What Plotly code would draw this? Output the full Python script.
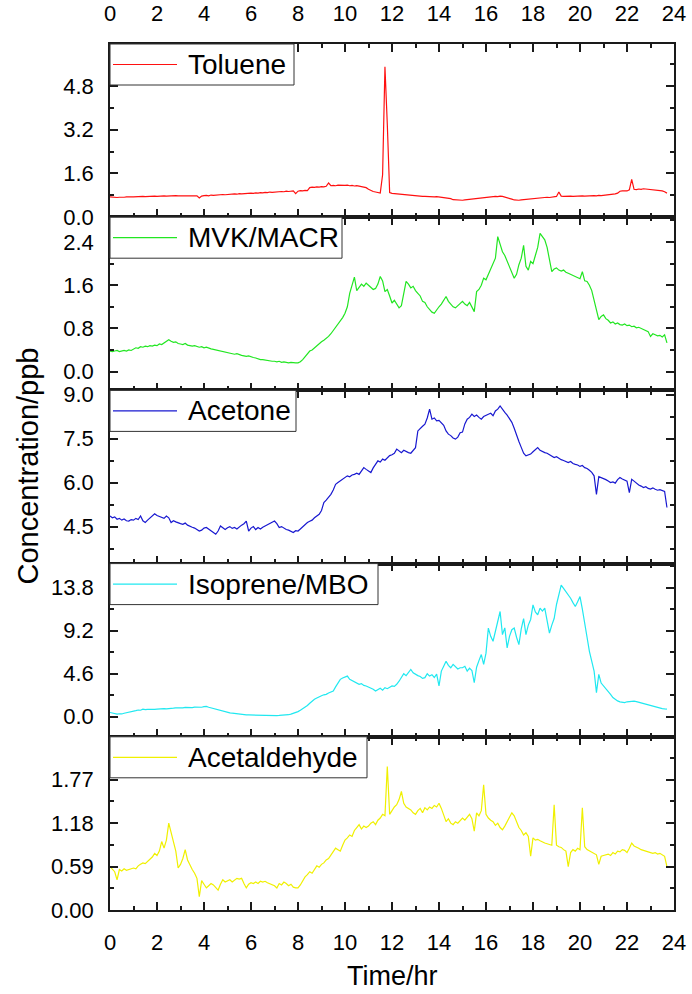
import numpy as np
import plotly.graph_objects as go
from plotly.subplots import make_subplots

# ---------------- data (time in hours, 0.1 h sampling, 0.0 .. 23.7) ----------------
time_hr = np.round(np.arange(0, 23.75, 0.1), 1)

toluene = [
    0.74,0.73,0.73,0.72,0.73,0.72,0.73,0.74,0.73,0.74,
    0.74,0.75,0.74,0.75,0.76,0.75,0.76,0.75,0.76,0.77,
    0.76,0.77,0.76,0.78,0.77,0.78,0.77,0.78,0.79,0.78,
    0.78,0.79,0.78,0.79,0.78,0.80,0.79,0.78,0.70,0.77,
    0.79,0.80,0.78,0.81,0.80,0.81,0.82,0.81,0.83,0.82,
    0.83,0.84,0.83,0.85,0.84,0.86,0.85,0.86,0.87,0.86,
    0.88,0.87,0.89,0.88,0.90,0.89,0.91,0.90,0.92,0.91,
    0.92,0.93,0.92,0.94,0.93,0.95,0.94,0.95,0.96,0.86,
    0.95,0.97,0.96,0.98,0.97,1.08,1.10,1.09,1.11,1.10,
    1.12,1.11,1.13,1.25,1.15,1.16,1.15,1.17,1.16,1.17,
    1.16,1.17,1.15,1.16,1.14,1.15,1.13,1.12,1.10,1.08,
    1.02,0.97,0.94,0.92,0.90,0.88,1.55,5.50,3.40,0.90,
    0.87,0.86,0.86,0.85,0.85,0.84,0.83,0.82,0.80,0.79,
    0.78,0.77,0.77,0.76,0.76,0.75,0.76,0.75,0.74,0.75,
    0.74,0.74,0.73,0.72,0.70,0.68,0.64,0.63,0.62,0.62,
    0.62,0.63,0.64,0.65,0.66,0.68,0.67,0.70,0.71,0.72,
    0.73,0.74,0.73,0.75,0.76,0.75,0.77,0.76,0.74,0.72,
    0.69,0.66,0.63,0.62,0.62,0.63,0.64,0.65,0.66,0.67,
    0.68,0.69,0.70,0.70,0.71,0.72,0.73,0.72,0.74,0.75,
    0.76,0.92,0.77,0.76,0.77,0.76,0.77,0.76,0.77,0.76,
    0.77,0.78,0.77,0.78,0.79,0.78,0.79,0.78,0.80,0.79,
    0.80,0.81,0.82,0.81,0.83,0.85,0.88,0.95,0.96,0.97,
    0.96,1.00,1.38,1.02,1.01,1.03,1.02,1.04,1.03,1.02,
    1.03,1.02,1.01,0.99,0.98,0.96,0.93,0.88,
]

mvk_macr = [
    0.38,0.37,0.38,0.39,0.37,0.38,0.39,0.38,0.40,0.39,
    0.41,0.44,0.43,0.46,0.45,0.47,0.46,0.48,0.47,0.49,
    0.48,0.51,0.50,0.53,0.55,0.59,0.56,0.54,0.55,0.52,
    0.51,0.50,0.52,0.49,0.48,0.47,0.48,0.46,0.45,0.46,
    0.44,0.45,0.43,0.42,0.41,0.40,0.39,0.38,0.36,0.35,
    0.35,0.34,0.33,0.32,0.33,0.31,0.30,0.29,0.28,0.29,
    0.27,0.26,0.25,0.23,0.22,0.22,0.21,0.20,0.20,0.19,
    0.19,0.18,0.19,0.17,0.18,0.17,0.16,0.17,0.16,0.16,
    0.16,0.18,0.22,0.28,0.33,0.38,0.40,0.44,0.48,0.52,
    0.55,0.58,0.61,0.65,0.70,0.76,0.82,0.88,0.93,1.00,
    1.08,1.20,1.45,1.60,1.75,1.50,1.55,1.62,1.58,1.64,
    1.60,1.56,1.52,1.54,1.62,1.76,1.68,1.48,1.52,1.40,
    1.27,1.32,1.25,1.18,1.22,1.45,1.67,1.62,1.55,1.58,
    1.50,1.45,1.40,1.30,1.28,1.20,1.15,1.10,1.08,1.15,
    1.20,1.25,1.32,1.39,1.30,1.25,1.20,1.18,1.22,1.26,
    1.30,1.25,1.22,1.28,1.20,1.11,1.48,1.52,1.60,1.73,
    1.70,1.80,1.90,1.98,2.10,2.50,2.35,2.22,2.15,2.04,
    1.95,1.82,1.73,1.80,1.98,2.10,2.34,1.95,1.88,2.04,
    2.00,2.15,2.30,2.56,2.50,2.44,2.30,2.10,1.85,1.90,
    1.92,1.88,1.86,1.88,1.84,1.82,1.80,1.78,1.76,1.73,
    1.72,1.85,1.68,1.67,1.60,1.50,1.30,1.15,0.96,1.02,
    1.05,0.98,0.95,0.90,0.92,0.88,0.90,0.87,0.86,0.88,
    0.85,0.86,0.83,0.84,0.81,0.82,0.80,0.78,0.76,0.74,
    0.65,0.70,0.68,0.66,0.67,0.64,0.68,0.53,
]

acetone = [
    4.86,4.80,4.83,4.75,4.78,4.72,4.76,4.70,4.69,4.74,
    4.72,4.78,4.74,4.86,4.70,4.64,4.72,4.80,4.85,4.94,
    4.88,4.85,4.82,4.78,4.86,4.80,4.64,4.70,4.66,4.62,
    4.60,4.58,4.62,4.55,4.50,4.48,4.45,4.40,4.35,4.38,
    4.45,4.47,4.42,4.38,4.30,4.24,4.35,4.52,4.45,4.40,
    4.46,4.50,4.44,4.47,4.42,4.50,4.55,4.60,4.69,4.35,
    4.45,4.50,4.40,4.47,4.42,4.48,4.52,4.58,4.62,4.65,
    4.69,4.60,4.47,4.50,4.45,4.40,4.38,4.35,4.30,4.36,
    4.35,4.42,4.50,4.58,4.64,4.68,4.72,4.80,4.86,4.92,
    5.05,5.32,5.40,5.49,5.60,5.75,5.94,6.00,6.05,6.10,
    6.15,6.23,6.20,6.26,6.28,6.32,6.28,6.40,6.51,6.45,
    6.40,6.34,6.50,6.62,6.74,6.70,6.80,6.76,6.85,6.92,
    6.95,7.00,7.14,7.08,7.02,7.10,7.05,7.02,7.00,7.08,
    7.19,7.76,7.85,7.92,7.99,8.20,8.50,8.16,8.20,8.10,
    8.12,8.05,7.95,7.76,7.65,7.60,7.52,7.48,7.55,7.70,
    7.72,8.00,8.16,8.22,8.33,8.25,8.30,8.22,8.16,8.25,
    8.30,8.33,8.36,8.28,8.44,8.50,8.61,8.48,8.39,8.30,
    8.16,8.05,7.85,7.59,7.40,7.20,7.00,6.91,6.95,6.97,
    7.05,7.12,7.19,7.10,7.05,7.02,7.00,6.95,6.92,6.85,
    6.88,6.82,6.78,6.75,6.70,6.68,6.72,6.65,6.62,6.60,
    6.55,6.58,6.51,6.48,6.42,6.35,6.23,5.60,6.20,6.17,
    6.15,6.10,6.05,6.00,6.02,5.98,6.10,6.17,6.12,6.08,
    6.05,5.66,6.11,6.05,5.98,5.92,5.88,5.83,5.86,5.80,
    5.78,5.82,5.77,5.74,5.76,5.72,5.70,5.15,
]

isoprene_mbo = [
    0.46,0.40,0.35,0.28,0.32,0.30,0.38,0.42,0.50,0.55,
    0.60,0.65,0.72,0.70,0.81,0.76,0.80,0.78,0.84,0.80,
    0.82,0.86,0.83,0.88,0.85,0.90,0.87,0.92,0.95,0.93,
    0.99,0.95,1.00,0.97,1.02,0.98,1.03,1.00,1.05,1.02,
    1.08,1.10,1.02,0.95,0.88,0.81,0.72,0.64,0.58,0.52,
    0.46,0.42,0.38,0.34,0.30,0.27,0.25,0.23,0.21,0.20,
    0.19,0.18,0.17,0.16,0.14,0.15,0.14,0.14,0.13,0.14,
    0.14,0.13,0.14,0.14,0.15,0.18,0.22,0.28,0.35,0.45,
    0.55,0.70,0.85,0.99,1.20,1.45,1.70,1.88,2.00,2.15,
    2.25,2.35,2.40,2.55,2.65,2.76,3.20,3.60,4.00,4.15,
    4.25,4.35,4.00,3.85,3.70,3.55,3.47,3.55,3.35,3.29,
    3.20,3.05,2.95,2.76,2.90,3.05,2.85,3.11,3.00,3.20,
    3.30,3.25,3.47,3.80,4.18,4.60,4.40,4.80,5.06,4.70,
    4.53,4.40,4.30,4.10,4.18,4.60,4.35,4.50,4.20,4.55,
    3.29,4.88,5.40,5.94,5.50,5.24,5.60,5.35,5.10,5.24,
    5.24,5.40,4.88,5.20,4.95,3.64,5.30,6.00,6.65,5.60,
    6.80,9.48,8.60,8.07,9.20,10.20,11.25,8.78,9.50,7.36,
    8.60,9.30,9.48,8.50,7.71,9.40,10.50,8.78,9.80,10.40,
    11.96,11.20,10.90,11.60,11.30,11.60,10.40,8.95,9.80,10.50,
    12.00,13.20,14.08,13.73,13.40,13.00,12.67,12.20,11.78,12.30,
    12.85,11.50,10.19,8.50,7.00,5.90,4.88,2.58,4.53,3.60,
    3.30,3.11,2.70,2.40,2.05,1.85,1.70,1.60,1.55,1.52,
    1.60,1.65,1.70,1.68,1.62,1.55,1.48,1.40,1.32,1.25,
    1.17,1.10,1.05,0.98,0.92,0.88,0.84,0.81,
]

acetaldehyde = [
    0.59,0.55,0.52,0.41,0.55,0.53,0.56,0.54,0.55,0.55,
    0.57,0.56,0.60,0.62,0.64,0.63,0.66,0.68,0.72,0.77,
    0.74,0.80,0.93,0.84,0.95,1.18,1.05,0.93,0.80,0.57,
    0.62,0.70,0.82,0.68,0.61,0.55,0.50,0.43,0.18,0.40,
    0.35,0.30,0.33,0.36,0.34,0.30,0.27,0.35,0.41,0.38,
    0.39,0.41,0.38,0.40,0.43,0.42,0.43,0.36,0.30,0.35,
    0.37,0.36,0.38,0.36,0.39,0.38,0.39,0.37,0.36,0.34,
    0.33,0.30,0.36,0.34,0.38,0.36,0.33,0.35,0.31,0.30,
    0.30,0.34,0.40,0.45,0.48,0.52,0.50,0.55,0.60,0.58,
    0.62,0.64,0.68,0.70,0.75,0.80,0.84,0.82,0.80,0.88,
    0.95,0.98,1.02,1.00,1.08,1.12,1.16,1.10,1.14,1.12,
    1.14,1.18,1.20,1.16,1.22,1.25,1.30,1.28,1.95,1.30,
    1.35,1.40,1.43,1.50,1.61,1.45,1.40,1.38,1.36,1.32,
    1.30,1.35,1.38,1.32,1.39,1.36,1.40,1.38,1.42,1.40,
    1.45,1.38,1.28,1.20,1.24,1.18,1.16,1.20,1.18,1.22,
    1.25,1.22,1.26,1.30,1.24,1.07,1.32,1.28,1.35,1.70,
    1.30,1.25,1.22,1.20,1.15,1.18,1.12,1.09,1.14,1.20,
    1.25,1.32,1.28,1.20,1.12,1.08,1.02,1.05,1.00,0.73,
    0.98,0.95,0.96,0.94,0.92,0.91,0.90,0.89,0.88,1.43,
    0.88,0.86,0.85,0.82,0.80,0.59,0.78,0.82,0.80,0.84,
    0.82,1.39,0.86,0.82,0.80,0.78,0.76,0.75,0.62,0.73,
    0.74,0.75,0.76,0.74,0.78,0.76,0.80,0.79,0.82,0.81,
    0.78,0.84,0.91,0.87,0.86,0.84,0.82,0.81,0.80,0.79,
    0.78,0.77,0.78,0.76,0.77,0.75,0.73,0.59,
]

series_names = ["Toluene", "MVK/MACR", "Acetone", "Isoprene/MBO", "Acetaldehyde"]
series_values = [toluene, mvk_macr, acetone, isoprene_mbo, acetaldehyde]
series_colors = ["#ff1010", "#22e622", "#1818d0", "#20e8f0", "#f0f000"]

x_ticks = list(range(0, 25, 2))
y_ranges = [[0, 6.33], [-0.35, 2.86], [3.24, 9.14], [-2.14, 16.37], [0, 2.353]]
y_tickvals = [[0, 1.6, 3.2, 4.8], [0, 0.8, 1.6, 2.4], [4.5, 6.0, 7.5, 9.0],
              [0, 4.6, 9.2, 13.8], [0, 0.59, 1.18, 1.77]]
y_ticktext = [["0.0", "1.6", "3.2", "4.8"], ["0.0", "0.8", "1.6", "2.4"],
              ["4.5", "6.0", "7.5", "9.0"], ["0.0", "4.6", "9.2", "13.8"],
              ["0.00", "0.59", "1.18", "1.77"]]
y_minor = [[0.8, 2.4, 4.0, 5.6], [0.4, 1.2, 2.0, 2.8], [3.75, 5.25, 6.75, 8.25],
           [2.3, 6.9, 11.5, 16.1], [0.295, 0.885, 1.475, 2.065]]

# ---------------- styling / geometry ----------------
FONT = "Liberation Sans, Arial, sans-serif"
AXC = "#1a1a1a"
W, H = 692, 994
ML, MR, MT, MB = 110, 18, 44, 84
PW = W - ML - MR                 # plot width in px
PA = H - MT - MB                 # total plot height in px
PH = PA / 5                      # one panel height in px
legend_box_w = [184, 232, 186, 268, 257]   # px
LEG_H = 41                                 # px

fig = make_subplots(rows=5, cols=1, shared_xaxes=True, vertical_spacing=0)

for i, (name, vals, col) in enumerate(zip(series_names, series_values, series_colors)):
    fig.add_trace(go.Scatter(x=time_hr, y=vals, mode="lines", name=name,
                             line=dict(color=col, width=1.2), showlegend=False),
                  row=i + 1, col=1)
    sfx = "" if i == 0 else str(i + 1)
    xr, yr = f"x{sfx} domain", f"y{sfx} domain"
    ymid = 1 - (LEG_H / 2) / PH
    # legend frame
    fig.add_shape(type="rect", xref=xr, yref=yr, x0=0, x1=legend_box_w[i] / PW,
                  y0=1 - LEG_H / PH, y1=1, fillcolor="white",
                  line=dict(color="#333333", width=1), layer="above")
    # legend line sample
    fig.add_shape(type="line", xref=xr, yref=yr, x0=3 / PW, x1=67 / PW, y0=ymid, y1=ymid,
                  line=dict(color=col, width=1.2), layer="above")
    # legend label
    fig.add_annotation(xref=xr, yref=yr, x=76 / PW, y=ymid, xanchor="left", yanchor="middle",
                       text=name, showarrow=False,
                       font=dict(family=FONT, size=28, color="black"))

common_ax = dict(showline=True, linecolor=AXC, linewidth=1.5, mirror="allticks",
                 ticks="inside", ticklen=8, tickwidth=1.5, tickcolor=AXC,
                 showgrid=False, zeroline=False, automargin=False,
                 tickfont=dict(family=FONT, size=22, color="black"))

for i in range(5):
    fig.update_xaxes(range=[0, 24], tickvals=x_ticks,
                     minor=dict(dtick=1, tick0=0, ticklen=4.5, tickwidth=1.5,
                                tickcolor=AXC, ticks="inside"),
                     ticklabelstandoff=12,
                     **common_ax, row=i + 1, col=1)
    fig.update_yaxes(range=y_ranges[i], tickvals=y_tickvals[i], ticktext=y_ticktext[i],
                     minor=dict(tickvals=y_minor[i], ticklen=4.5, tickwidth=1.5,
                                tickcolor=AXC, ticks="inside"),
                     ticklabelstandoff=10,
                     **common_ax, row=i + 1, col=1)

fig.update_xaxes(side="top", showticklabels=True, row=1, col=1)

# axis titles
fig.add_annotation(xref="paper", yref="paper", x=0.5, y=(H - MB - 976) / PA,
                   xanchor="center", yanchor="middle",
                   text="Time/hr", showarrow=False,
                   font=dict(family=FONT, size=27, color="black"))
fig.add_annotation(xref="paper", yref="paper", x=(27.5 - ML) / PW, y=(H - MB - 466) / PA,
                   xanchor="center", yanchor="middle", textangle=-90,
                   text="Concentration/ppb", showarrow=False,
                   font=dict(family=FONT, size=29, color="black"))

fig.update_layout(width=W, height=H, margin=dict(l=ML, r=MR, t=MT, b=MB, autoexpand=False),
                  paper_bgcolor="white", plot_bgcolor="white",
                  font=dict(family=FONT, color="black"), showlegend=False)

fig.write_html("out.html")
